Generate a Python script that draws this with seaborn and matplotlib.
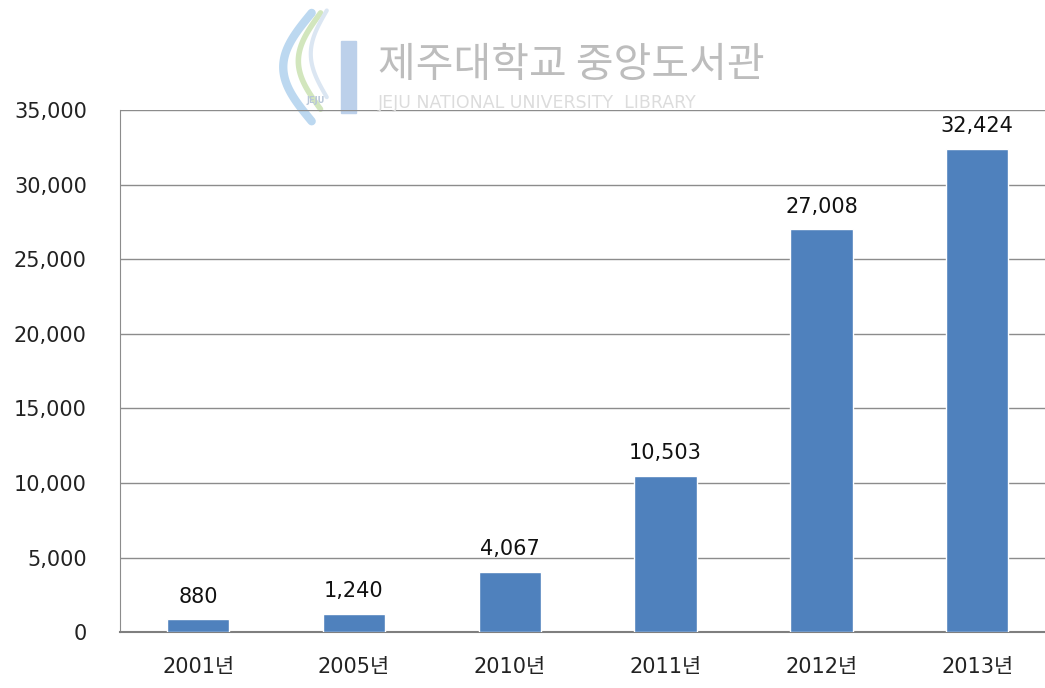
import numpy as np
import pandas as pd
import matplotlib
matplotlib.use("Agg")
import matplotlib.pyplot as plt
import seaborn as sns

# data
years = ["2001년", "2005년", "2010년", "2011년", "2012년", "2013년"]
counts = [880, 1240, 4067, 10503, 27008, 32424]
y_ticks = [0, 5000, 10000, 15000, 20000, 25000, 30000, 35000]

df = pd.DataFrame({"year": years, "count": counts})

sns.set_style("white")
plt.rcParams['font.family'] = ['DejaVu Sans', 'Noto Sans CJK KR']

fig = plt.figure(figsize=(10.45, 6.88), dpi=100)

# watermark (drawn behind the chart)
fig.text(0.362, 0.905, "제주대학교 중앙도서관", fontsize=29.5, color="#bdbdbd",
         ha="left", va="center", family="Noto Sans CJK KR", fontweight="medium")
fig.text(0.362, 0.851, "JEJU NATIONAL UNIVERSITY  LIBRARY", fontsize=12.5,
         color="#dcdcdc", ha="left", va="center")
logo = fig.add_axes([0.26, 0.815, 0.085, 0.175], zorder=-1)
logo.set_xlim(0, 1)
logo.set_ylim(0, 1)
logo.axis("off")
t = np.linspace(0, 1, 60)
logo.plot(0.45 - 0.32 * np.sin(np.pi * t), 0.05 + 0.9 * t, color="#bcd8f0", lw=6)
logo.plot(0.55 - 0.25 * np.sin(np.pi * t), 0.15 + 0.8 * t, color="#d2e6bd", lw=4)
logo.plot(0.62 - 0.18 * np.sin(np.pi * t), 0.25 + 0.72 * t, color="#dbe6f2", lw=3)
logo.add_patch(plt.Rectangle((0.78, 0.12), 0.17, 0.6, color="#bcd0ea"))
logo.text(0.5, 0.22, "JEJU", fontsize=6, color="#b8c6d8", ha="center", va="center",
          fontweight="bold")

ax = fig.add_axes([0.115, 0.081, 0.8947, 0.759])

sns.barplot(data=df, x="year", y="count", color="#4F81BD", saturation=1,
            width=0.40, ax=ax, zorder=3)

ax.set_ylim(0, 35000)
ax.set_xlim(-0.5, 5.5)
ax.set_yticks(y_ticks)
ax.set_yticklabels([f"{t:,}" for t in y_ticks], fontsize=15, color="#222222")
ax.tick_params(axis="x", labelsize=15, colors="#222222", pad=18, length=0)
ax.tick_params(axis="y", length=0, pad=24)
ax.set_xlabel("")
ax.set_ylabel("")
ax.set_facecolor("none")
ax.yaxis.grid(True, color="#8c8c8c", lw=1.0, zorder=0)
for s in ["top", "right"]:
    ax.spines[s].set_visible(False)
ax.spines["left"].set_color("#8c8c8c")
ax.spines["bottom"].set_color("#7f7f7f")
ax.spines["bottom"].set_linewidth(1.5)

for i, v in enumerate(counts):
    ax.annotate(f"{v:,}", (i, v), xytext=(0, 9), textcoords="offset points",
                ha="center", va="bottom", fontsize=15, color="#111111")

plt.savefig("out.png", dpi=100)
